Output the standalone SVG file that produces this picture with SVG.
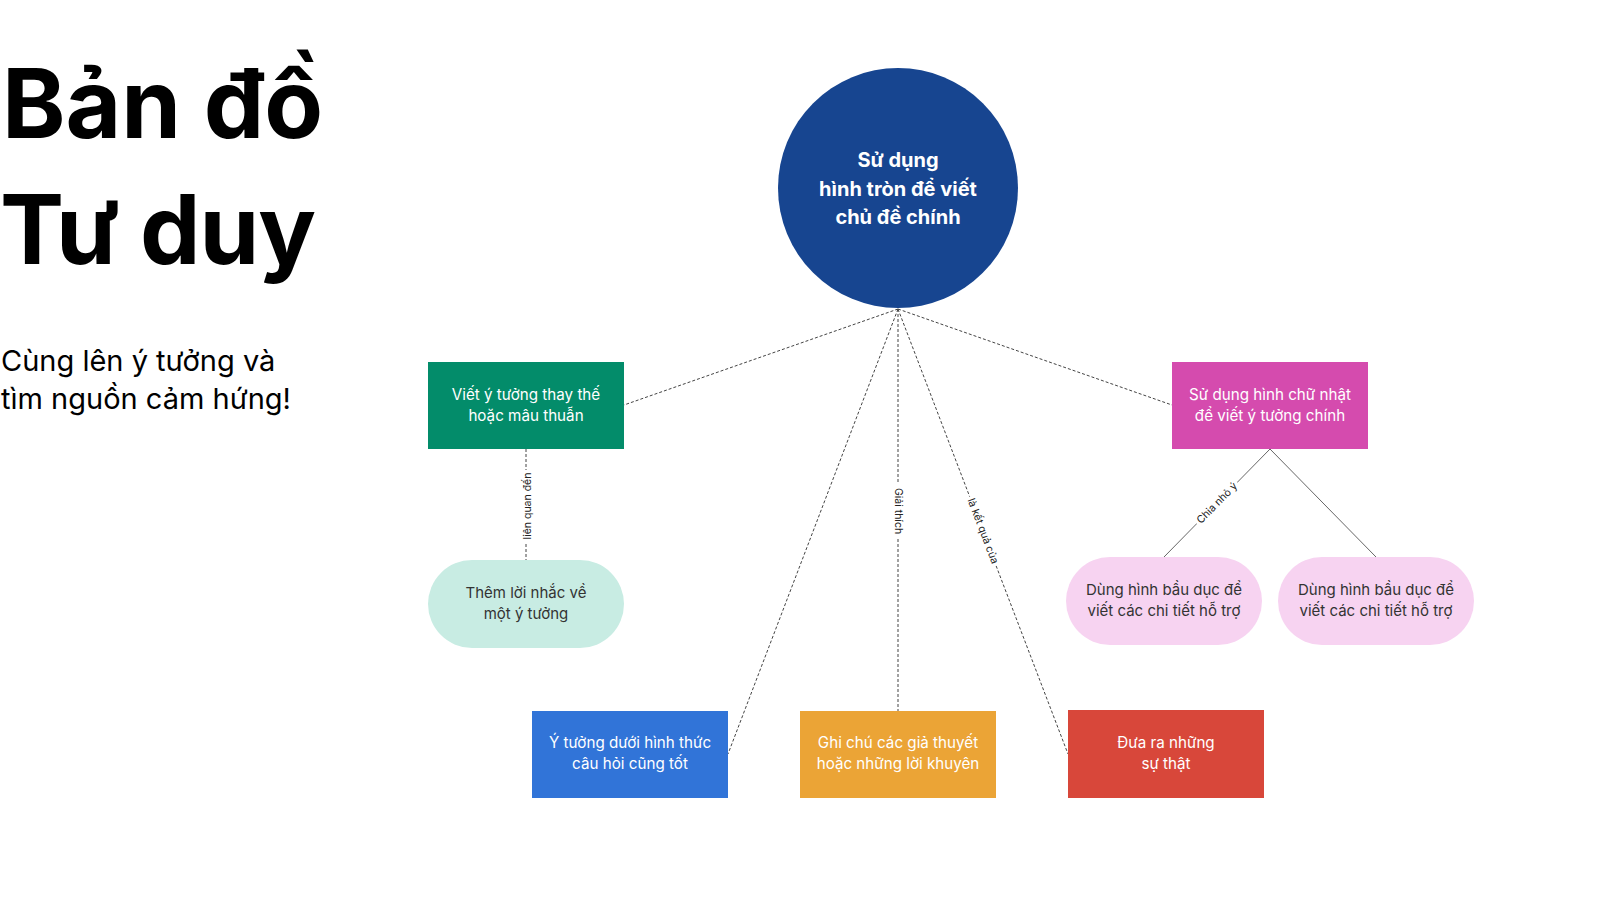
<svg xmlns="http://www.w3.org/2000/svg" width="1600" height="900" viewBox="0 0 1600 900">
<style>
  .title { font-family: Inter, "Liberation Sans", sans-serif; font-weight: 700; font-size: 96px; fill: #000; }
  .sub { font-family: Inter, "Liberation Sans", sans-serif; font-size: 29px; fill: #000; }
  .main { font-family: Inter, "Liberation Sans", sans-serif; font-weight: 700; font-size: 20px; fill: #fff; text-anchor: middle; }
  .nt { font-family: Inter, "Liberation Sans", sans-serif; font-size: 15.2px; fill: #fff; text-anchor: middle; }
  .dt { font-family: Inter, "Liberation Sans", sans-serif; font-size: 15px; fill: #333; text-anchor: middle; }
  .lbl { font-family: Inter, "Liberation Sans", sans-serif; font-size: 10.5px; fill: #222; text-anchor: middle; dominant-baseline: central; }
  .lbg { fill: #fff; }
  .c { stroke: #444; stroke-width: 1; fill: none; stroke-dasharray: 3 2; }
  .s { stroke: #555; stroke-width: 0.9; fill: none; }
</style>
<rect width="1600" height="900" fill="#fff"/>

<g id="title">
  <text class="title" x="2" y="138">Bản đồ</text>
  <text class="title" x="0" y="264" letter-spacing="-1">Tư duy</text>
  <text class="sub" x="1" y="371">Cùng lên ý tưởng và</text>
  <text class="sub" x="1" y="409">tìm nguồn cảm hứng!</text>
</g>

<g id="connectors">
  <line class="c" x1="898" y1="309" x2="624" y2="405"/>
  <line class="c" x1="898" y1="309" x2="1172" y2="405"/>
  <line class="c" x1="898" y1="309" x2="728" y2="754"/>
  <line class="c" x1="898" y1="309" x2="898" y2="711"/>
  <line class="c" x1="898" y1="309" x2="1068" y2="754"/>
  <line class="c" x1="526" y1="449" x2="526" y2="560"/>
  <line class="s" x1="1270" y1="449" x2="1164" y2="557"/>
  <line class="s" x1="1270" y1="449" x2="1376" y2="557"/>
  <g transform="translate(527,506) rotate(-90)">
    <rect class="lbg" x="-36" y="-7" width="72" height="14"/>
    <text class="lbl" x="0" y="0">liên quan đến</text>
  </g>
  <g transform="translate(898,511) rotate(90)">
    <rect class="lbg" x="-28" y="-7" width="56" height="14"/>
    <text class="lbl" x="0" y="0">Giải thích</text>
  </g>
  <g transform="translate(983,531) rotate(69.2)">
    <rect class="lbg" x="-37" y="-7" width="74" height="14"/>
    <text class="lbl" x="0" y="0">là kết quả của</text>
  </g>
  <g transform="translate(1217,503) rotate(-45.5)">
    <rect class="lbg" x="-29" y="-7" width="58" height="14"/>
    <text class="lbl" x="0" y="0">Chia nhỏ ý</text>
  </g>
</g>

<g id="n-main">
  <circle cx="898" cy="188" r="120" fill="#174590"/>
  <text class="main" x="898" y="167">Sử dụng</text>
  <text class="main" x="898" y="196">hình tròn để viết</text>
  <text class="main" x="898" y="224">chủ đề chính</text>
</g>

<g id="n-green">
  <rect x="428" y="362" width="196" height="87" fill="#038C6A"/>
  <text class="nt" x="526" y="400">Viết ý tưởng thay thế</text>
  <text class="nt" x="526" y="421">hoặc mâu thuẫn</text>
</g>

<g id="n-teal">
  <rect x="428" y="560" width="196" height="88" rx="44" fill="#C8ECE3"/>
  <text class="dt" x="526" y="598">Thêm lời nhắc về</text>
  <text class="dt" x="526" y="619">một ý tưởng</text>
</g>

<g id="n-magenta">
  <rect x="1172" y="362" width="196" height="87" fill="#D54BAE"/>
  <text class="nt" x="1270" y="400">Sử dụng hình chữ nhật</text>
  <text class="nt" x="1270" y="421">để viết ý tưởng chính</text>
</g>

<g id="n-oval1">
  <rect x="1066" y="557" width="196" height="88" rx="44" fill="#F7D3F1"/>
  <text class="dt" x="1164" y="595">Dùng hình bầu dục để</text>
  <text class="dt" x="1164" y="616">viết các chi tiết hỗ trợ</text>
</g>

<g id="n-oval2">
  <rect x="1278" y="557" width="196" height="88" rx="44" fill="#F7D3F1"/>
  <text class="dt" x="1376" y="595">Dùng hình bầu dục để</text>
  <text class="dt" x="1376" y="616">viết các chi tiết hỗ trợ</text>
</g>

<g id="n-blue">
  <rect x="532" y="711" width="196" height="87" fill="#3174D8"/>
  <text class="nt" x="630" y="748">Ý tưởng dưới hình thức</text>
  <text class="nt" x="630" y="769">câu hỏi cũng tốt</text>
</g>

<g id="n-orange">
  <rect x="800" y="711" width="196" height="87" fill="#EBA436"/>
  <text class="nt" x="898" y="748">Ghi chú các giả thuyết</text>
  <text class="nt" x="898" y="769">hoặc những lời khuyên</text>
</g>

<g id="n-red">
  <rect x="1068" y="710" width="196" height="88" fill="#D8473A"/>
  <text class="nt" x="1166" y="748">Đưa ra những</text>
  <text class="nt" x="1166" y="769">sự thật</text>
</g>
</svg>
